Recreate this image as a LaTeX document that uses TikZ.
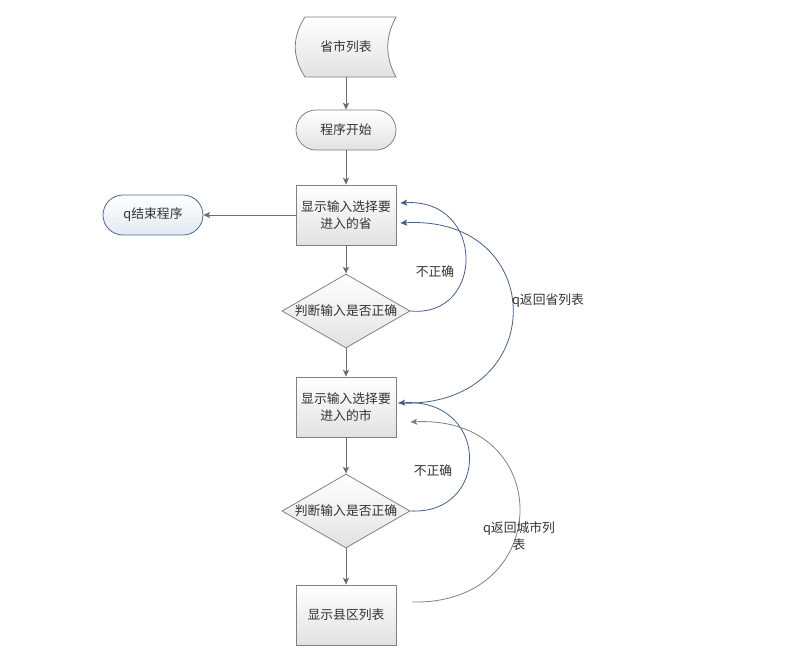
\documentclass[tikz,border=0pt]{standalone}
\usepackage{fontspec}
\setmainfont{Noto Sans CJK SC}
\usetikzlibrary{shapes.geometric,arrows.meta,calc}
\definecolor{lineg}{RGB}{110,110,110}
\definecolor{edgeg}{RGB}{128,128,128}
\definecolor{fillg}{RGB}{226,226,226}
\definecolor{curveb}{RGB}{66,96,140}
\definecolor{termb}{RGB}{80,104,140}
\definecolor{fillb}{RGB}{226,233,243}
\definecolor{txt}{RGB}{50,50,50}
\begin{document}
\begin{tikzpicture}[x=0.75pt,y=-0.75pt,
  every node/.style={font=\fontsize{9.6pt}{12.8pt}\selectfont, text=txt},
  procbox/.style={draw=edgeg, line width=0.6pt, top color=white, bottom color=fillg,
    minimum width=75pt, minimum height=45pt, inner sep=0pt, align=center},
  termbox/.style={draw=edgeg, line width=0.6pt, top color=white, bottom color=fillg,
    rounded corners=15pt, minimum width=75pt, minimum height=30pt, inner sep=0pt},
  endbox/.style={draw=termb, line width=0.6pt, top color=white, bottom color=fillb,
    rounded corners=15pt, minimum width=75pt, minimum height=30pt, inner sep=0pt},
  decbox/.style={diamond, draw=edgeg, line width=0.6pt, top color=white, bottom color=fillg,
    minimum width=96pt, minimum height=55.5pt, aspect=1.73, inner sep=0pt},
  flow/.style={draw=lineg, line width=0.6pt, -{Stealth[length=5pt,width=4.5pt,inset=1pt]}},
  bluecurve/.style={draw=curveb, line width=0.6pt, -{Stealth[length=5pt,width=4.5pt,inset=1pt]}},
  graycurve/.style={draw=edgeg, line width=0.6pt, -{Stealth[length=5pt,width=4.5pt,inset=1pt]}},
  lbl/.style={inner sep=1pt, align=center}
]
\useasboundingbox (0,0) rectangle (795,658);
% stored data shape
\path[draw=edgeg, line width=0.6pt, top color=white, bottom color=fillg]
  (305,17) -- (396,17) .. controls (385,37) and (385,57) .. (396,77)
  -- (305,77) .. controls (292,57) and (292,37) .. (305,17) -- cycle;
\node[minimum width=75pt, minimum height=45pt, inner sep=0pt] (list) at (346,47) {省市列表};
\node[termbox] (start) at (346,130) {程序开始};
\node[procbox] (b1) at (346,215) {显示输入选择要\\进入的省};
\node[endbox] (quit) at (153,215) {q结束程序};
\node[decbox] (d1) at (346,311) {判断输入是否正确};
\node[procbox] (b2) at (346,407) {显示输入选择要\\进入的市};
\node[decbox] (d2) at (346,511) {判断输入是否正确};
\node[procbox] (b3) at (346,615) {显示县区列表};

\draw[flow] (list) -- (start);
\draw[flow] (start) -- (b1);
\draw[flow] (b1) -- (quit);
\draw[flow] (b1) -- (d1);
\draw[flow] (d1) -- (b2);
\draw[flow] (b2) -- (d2);
\draw[flow] (d2) -- (b3);

\coordinate (b1a) at ($(b1.east)+(4,-12)$);
\coordinate (b1b) at ($(b1.east)+(4,8)$);
\coordinate (b2a) at ($(b2.east)+(2,-4)$);
\coordinate (b2b) at ($(b2.east)+(14,15)$);
\coordinate (b3a) at ($(b3.east)+(16,-13)$);

\draw[bluecurve] (d1.east) .. controls +(75,7) and +(85,-5) .. (b1a);
\draw[bluecurve] (b2a) .. controls +(152,7) and +(150,-8) .. (b1b);
\draw[bluecurve] (d2.east) .. controls +(80,4) and +(92,-5) .. (b2a);
\draw[graycurve] (b3a) .. controls +(143,3) and +(145,-7) .. (b2b);

\node[lbl] (l1) at (435,272) {不正确};
\node[lbl] (l2) at (548,301) {q返回省列表};
\node[lbl] (l3) at (433,471) {不正确};
\node[lbl] (l4) at (519,536) {q返回城市列\\表};
\end{tikzpicture}
\end{document}
